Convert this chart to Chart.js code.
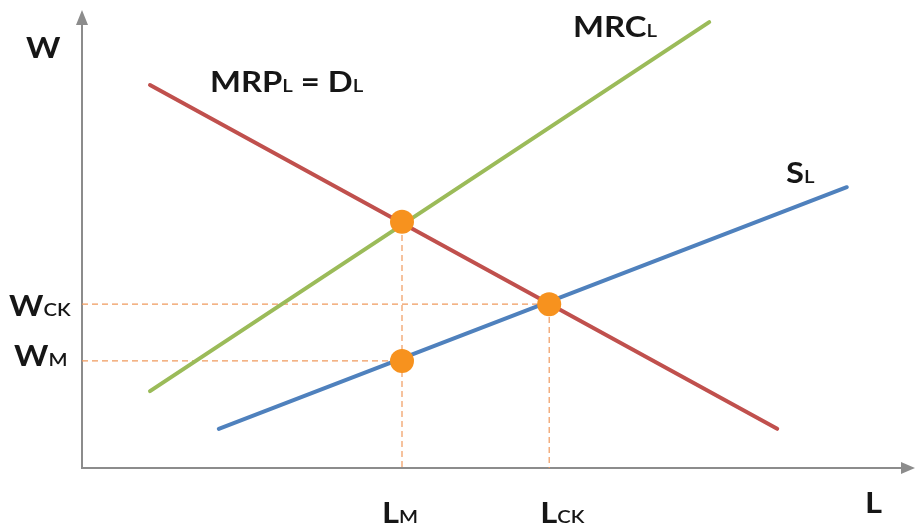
<!DOCTYPE html>
<html>
<head>
<meta charset="utf-8">
<script src="https://cdn.jsdelivr.net/npm/chart.js@4.4.0/dist/chart.umd.min.js"></script>
<style>
html,body{margin:0;padding:0;background:#fff;}
#wrap{width:916px;height:527px;position:relative;}
</style>
</head>
<body>
<div id="wrap"><canvas id="c"></canvas></div>
<script>
// Data (abstract units: L on x, W on y)
const demandX = [0.85, 8.69];
const demandY = [8.51, 0.87];
const mrcX = [0.85, 7.84];
const mrcY = [1.71, 9.91];
const supplyX = [1.71, 9.56];
const supplyY = [0.87, 6.24];
const L_M = 4.0;
const L_CK = 5.84;
const W_CK = 3.64;
const W_M = 2.38;
const W_MRC = 5.47;
const X_MAX = 10.425;
const Y_MAX = 10.4;

const toPts = (xs, ys) => xs.map((x, i) => ({x, y: ys[i]}));

const red = '#c0504d', green = '#9bbb59', blue = '#4f81bd', orange = '#f7921e', dash = '#f09a5e';

const axesPlugin = {
  id: 'axesArrows',
  beforeDatasetsDraw(chart) {
    const {ctx, scales: {x, y}} = chart;
    const x0 = x.getPixelForValue(0), y0 = y.getPixelForValue(0);
    const xe = x.getPixelForValue(X_MAX), ye = y.getPixelForValue(Y_MAX) + 10;
    ctx.save();
    ctx.strokeStyle = '#8c8c8c';
    ctx.fillStyle = '#8c8c8c';
    ctx.lineWidth = 2;
    ctx.beginPath();
    ctx.moveTo(x0, y0 + 1); ctx.lineTo(x0, ye + 12);
    ctx.moveTo(x0 - 1, y0); ctx.lineTo(xe - 12, y0);
    ctx.stroke();
    ctx.beginPath();
    ctx.moveTo(x0, ye); ctx.lineTo(x0 - 6, ye + 15); ctx.lineTo(x0 + 6, ye + 15); ctx.closePath();
    ctx.fill();
    ctx.beginPath();
    ctx.moveTo(xe - 1, y0); ctx.lineTo(xe - 15, y0 - 6); ctx.lineTo(xe - 15, y0 + 6); ctx.closePath();
    ctx.fill();
    ctx.restore();
  }
};

function label(ctx, parts, x, base) {
  // parts: [text, isSub]; slightly widened glyphs
  ctx.save();
  ctx.translate(x, base);
  ctx.scale(1.13, 1);
  let cx = 0;
  for (const [t, sub] of parts) {
    ctx.font = sub ? '600 18px Lato' : 'bold 29px Lato';
    ctx.fillText(t, cx, 0);
    cx += ctx.measureText(t).width;
  }
  ctx.restore();
}

const textPlugin = {
  id: 'labels',
  afterDatasetsDraw(chart) {
    const {ctx, scales: {x, y}} = chart;
    ctx.save();
    ctx.fillStyle = '#161616';
    ctx.textBaseline = 'alphabetic';
    ctx.textAlign = 'left';
    label(ctx, [['W', false]], 26, 58);
    label(ctx, [['MRP', false], ['L', true], [' = D', false], ['L', true]], 210, 92);
    label(ctx, [['MRC', false], ['L', true]], 573, 37);
    label(ctx, [['S', false], ['L', true]], 786, 183);
    label(ctx, [['W', false], ['CK', true]], 9, y.getPixelForValue(W_CK) + 12);
    label(ctx, [['W', false], ['M', true]], 14, y.getPixelForValue(W_M) + 5);
    label(ctx, [['L', false], ['M', true]], x.getPixelForValue(L_M) - 20, 523);
    label(ctx, [['L', false], ['CK', true]], x.getPixelForValue(L_CK) - 9, 523);
    label(ctx, [['L', false]], 865, 513);
    ctx.restore();
  }
};

new Chart(document.getElementById('c'), {
  type: 'scatter',
  data: {
    datasets: [
      {data: [{x: 0, y: W_CK}, {x: L_CK, y: W_CK}, {x: L_CK, y: 0}], showLine: true, borderColor: dash, borderWidth: 1.2, borderDash: [6, 4], pointRadius: 0, order: 5},
      {data: [{x: 0, y: W_M}, {x: L_M, y: W_M}, {x: L_M, y: W_MRC}], showLine: true, borderColor: dash, borderWidth: 1.2, borderDash: [6, 4], pointRadius: 0, order: 5},
      {data: [{x: L_M, y: W_M}, {x: L_M, y: 0}], showLine: true, borderColor: dash, borderWidth: 1.2, borderDash: [6, 4], pointRadius: 0, order: 5},
      {data: toPts(demandX, demandY), showLine: true, borderColor: red, borderWidth: 4, pointRadius: 0, borderCapStyle: 'round', order: 3},
      {data: toPts(mrcX, mrcY), showLine: true, borderColor: green, borderWidth: 4, pointRadius: 0, borderCapStyle: 'round', order: 3},
      {data: toPts(supplyX, supplyY), showLine: true, borderColor: blue, borderWidth: 4, pointRadius: 0, borderCapStyle: 'round', order: 3},
      {data: [{x: L_M, y: W_MRC}, {x: L_CK, y: W_CK}, {x: L_M, y: W_M}], showLine: false, pointRadius: 12, pointBackgroundColor: orange, pointBorderColor: orange, pointBorderWidth: 0, order: 1}
    ]
  },
  options: {
    responsive: true,
    maintainAspectRatio: false,
    animation: false,
    layout: {autoPadding: false, padding: {left: 82, right: 0, top: 0, bottom: 59}},
    plugins: {legend: {display: false}, tooltip: {enabled: false}},
    scales: {
      x: {type: 'linear', min: 0, max: X_MAX, display: false},
      y: {type: 'linear', min: 0, max: Y_MAX, display: false}
    }
  },
  plugins: [axesPlugin, textPlugin]
});
</script>
</body>
</html>
